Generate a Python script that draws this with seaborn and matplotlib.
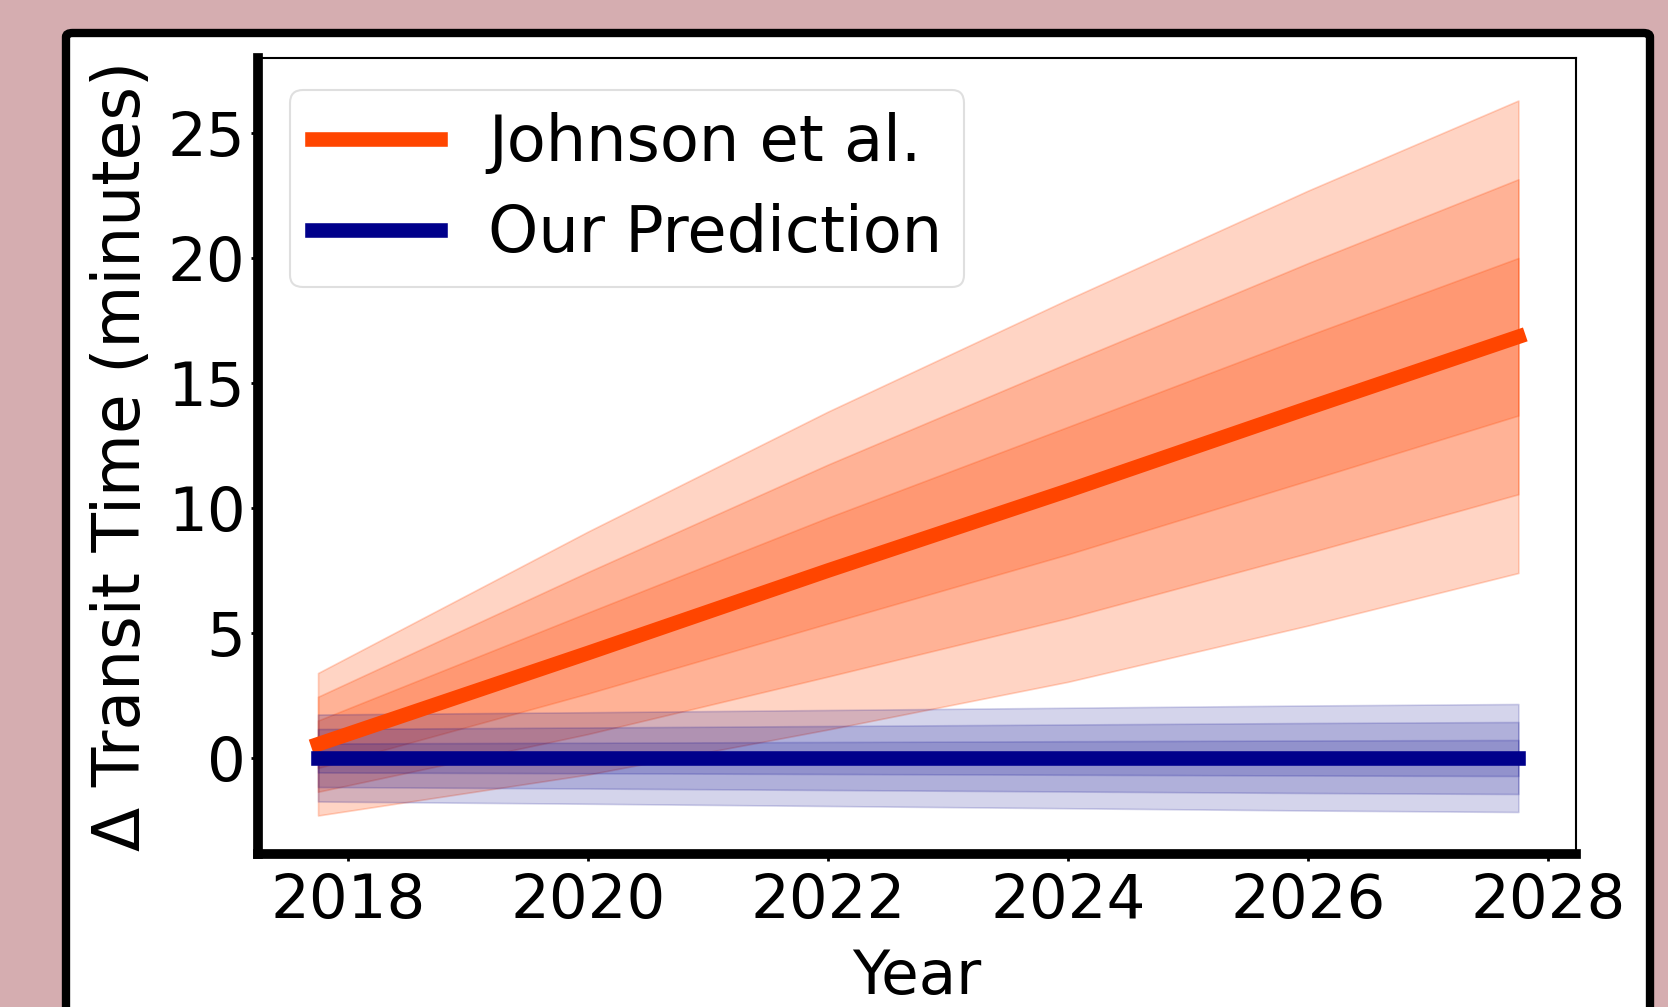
import matplotlib
matplotlib.use("Agg")
import matplotlib.pyplot as plt
from matplotlib.patches import FancyBboxPatch
import numpy as np
import pandas as pd
import seaborn as sns

# Forecast of transit-time deviation: published ephemeris vs. new prediction
years = [2017.75, 2020.0, 2022.0, 2024.0, 2026.0, 2027.75]
johnson_mid = [0.55, 4.2, 7.5, 10.7, 14.0, 16.85]
johnson_sigma = [0.95, 1.62, 2.12, 2.55, 2.9, 3.15]
ours_mid = [0.0, 0.0, 0.0, 0.0, 0.0, 0.0]
ours_sigma = [0.58, 0.61, 0.64, 0.67, 0.70, 0.72]

x_ticks = [2018, 2020, 2022, 2024, 2026, 2028]
y_ticks = [0, 5, 10, 15, 20, 25]

ORANGE = "#ff4500"
NAVY = "#00008b"

sns.set_theme(style="white")
plt.rcParams["font.family"] = ["DejaVu Sans"]
plt.rcParams["text.color"] = "black"
plt.rcParams["axes.labelcolor"] = "black"
plt.rcParams["xtick.color"] = "black"
plt.rcParams["ytick.color"] = "black"

fig = plt.figure(figsize=(16.68, 10.07), dpi=100)
fig.patch.set_facecolor("#d5adb0")

# white poster panel with a heavy black frame
W, H = 1668.0, 1007.0
panel = FancyBboxPatch((66 / W, -0.05), (1650 - 66) / W, (H - 33) / H + 0.05,
                       boxstyle="round,pad=0,rounding_size=0.004",
                       transform=fig.transFigure, facecolor="white",
                       edgecolor="black", linewidth=6, zorder=-10)
fig.patches.append(panel)

ax = fig.add_axes([258 / W, 1 - 854 / H, (1576 - 258) / W, (854 - 58) / H])
ax.set_zorder(5)
ax.set_facecolor("white")

df = pd.DataFrame({"Year": years + years,
                   "dt": johnson_mid + ours_mid,
                   "Model": ["Johnson et al."] * len(years) + ["Our Prediction"] * len(years)})

x = np.array(years)
for mid, sig, col, a in [(johnson_mid, johnson_sigma, ORANGE, 0.23),
                         (ours_mid, ours_sigma, NAVY, 0.17)]:
    mid = np.array(mid)
    sig = np.array(sig)
    for k in (1, 2, 3):
        ax.fill_between(x, mid - k * sig, mid + k * sig, color=col, alpha=a,
                        linewidth=1.2, zorder=1)

sns.lineplot(data=df, x="Year", y="dt", hue="Model",
             palette={"Johnson et al.": ORANGE, "Our Prediction": NAVY},
             linewidth=10.5, ax=ax, zorder=3, legend=True)
for ln in ax.get_lines():
    ln.set_solid_capstyle("projecting")

ax.set_xlim(2017.25, 2028.23)
ax.set_ylim(-3.84, 28.0)
ax.set_xticks(x_ticks)
ax.set_yticks(y_ticks)
ax.set_xlabel("Year", fontsize=44, labelpad=12)
ax.set_ylabel("Δ Transit Time (minutes)", fontsize=46.5, labelpad=10)
ax.tick_params(axis="both", labelsize=44, length=5, width=2, color="black",
               labelcolor="black", direction="out", bottom=True, left=True)
ax.tick_params(axis="x", pad=8)
ax.tick_params(axis="y", pad=4)

for side in ("left", "bottom"):
    ax.spines[side].set_linewidth(7)
    ax.spines[side].set_color("black")
for side in ("top", "right"):
    ax.spines[side].set_linewidth(1.5)
    ax.spines[side].set_color("black")

leg = ax.legend(loc="upper left", bbox_to_anchor=(0.0, 1.0), borderaxespad=0.5,
                fontsize=46, handlelength=2.0, handletextpad=0.75,
                labelspacing=0.45, frameon=True, fancybox=True,
                borderpad=0.35, title=None)
leg.get_frame().set_edgecolor("#d8d8d8")
leg.get_frame().set_linewidth(1.5)
for h in leg.get_lines():
    h.set_linewidth(10.5)
    h.set_solid_capstyle("projecting")
for t in leg.get_texts():
    t.set_color("black")

fig.savefig("out.png", dpi=100, facecolor=fig.get_facecolor())
